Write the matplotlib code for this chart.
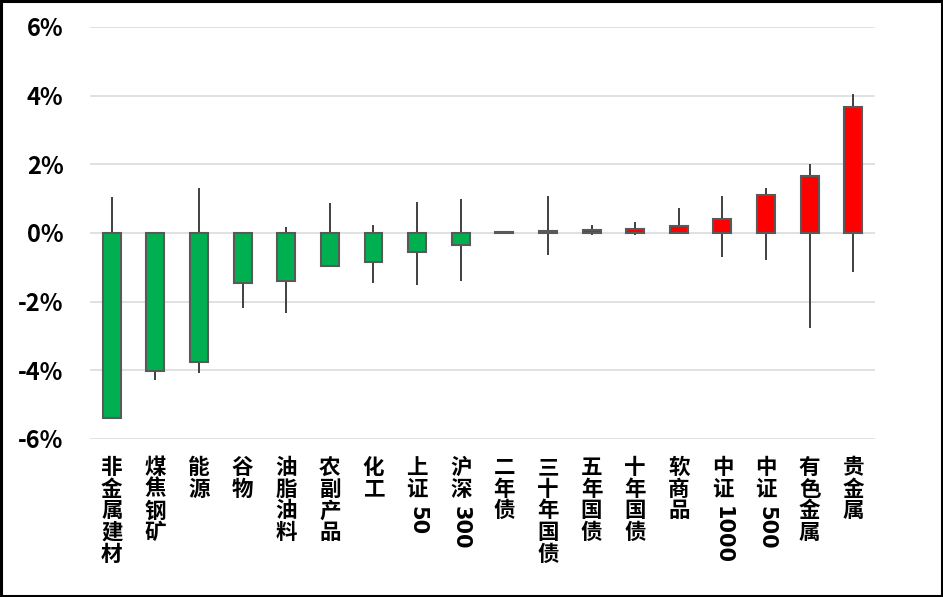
import matplotlib
matplotlib.use("Agg")
import matplotlib.pyplot as plt
from matplotlib.patches import Rectangle
import numpy as np

plt.rcParams['font.family'] = ['Noto Sans CJK SC', 'DejaVu Sans']

# data (%)
names = ['非金属建材', '煤焦钢矿', '能源', '谷物', '油脂油料', '农副产品', '化工', '上证50',
         '沪深300', '二年债', '三十年国债', '五年国债', '十年国债', '软商品', '中证1000',
         '中证500', '有色金属', '贵金属']
change = [-5.38, -4.02, -3.75, -1.46, -1.40, -0.95, -0.85, -0.55, -0.35,
          0.03, 0.06, 0.10, 0.13, 0.19, 0.42, 1.11, 1.66, 3.67]
high = [1.04, 0.0, 1.30, 0.0, 0.16, 0.87, 0.23, 0.90, 0.99,
        0.05, 1.07, 0.23, 0.31, 0.72, 1.07, 1.30, 2.00, 4.05]
low = [-5.38, -4.28, -4.07, -2.18, -2.32, -0.95, -1.45, -1.51, -1.39,
       0.0, -0.63, -0.05, -0.05, 0.0, -0.69, -0.78, -2.78, -1.15]
yticks = [-6, -4, -2, 0, 2, 4, 6]
ytick_labels = ['-6%', '-4%', '-2%', '0%', '2%', '4%', '6%']

fig = plt.figure(figsize=(9.43, 5.97), dpi=100)
ax = fig.add_axes([0.0954, 0.2647, 0.8326, 0.6901])

x = np.arange(len(names))
colors = ['#00B050' if v < 0 else '#FF0000' for v in change]

ax.vlines(x, low, high, color='#404040', lw=1.4, zorder=2)
ax.bar(x, change, width=0.41, color=colors, edgecolor='#595959', linewidth=1.5, zorder=3)

ax.set_xlim(-0.5, len(names) - 0.5)
ax.set_ylim(-6, 6)
ax.set_yticks(yticks)
ax.set_yticklabels(ytick_labels, fontsize=17, fontweight='bold')
ax.tick_params(axis='y', length=0, pad=19)
ax.set_xticks([])
ax.grid(axis='y', color='#D9D9D9', lw=1.1, zorder=0)
ax.set_axisbelow(True)
for s in ax.spines.values():
    s.set_visible(False)

# vertical category labels: CJK stacked upright, digits rotated
pitch = 15.6
for i, name in enumerate(names):
    cjk = ''.join(c for c in name if not c.isdigit())
    digits = ''.join(c for c in name if c.isdigit())
    for k, c in enumerate(cjk):
        ax.annotate(c, xy=(i, 0), xycoords=('data', 'axes fraction'),
                    xytext=(0, -13 - k * pitch), textcoords='offset points',
                    ha='center', va='top', fontsize=15.5, fontweight='bold')
    if digits:
        ax.annotate(digits, xy=(i, 0), xycoords=('data', 'axes fraction'),
                    xytext=(0, -17 - len(cjk) * pitch), textcoords='offset points',
                    ha='center', va='top', rotation=-90, fontsize=15,
                    fontweight='bold', family=['DejaVu Sans'])

fig.patches.append(Rectangle((0.001, 0.001), 0.998, 0.998, transform=fig.transFigure,
                             fill=False, edgecolor='black', lw=2.2))

fig.savefig('out.png', dpi=100)
